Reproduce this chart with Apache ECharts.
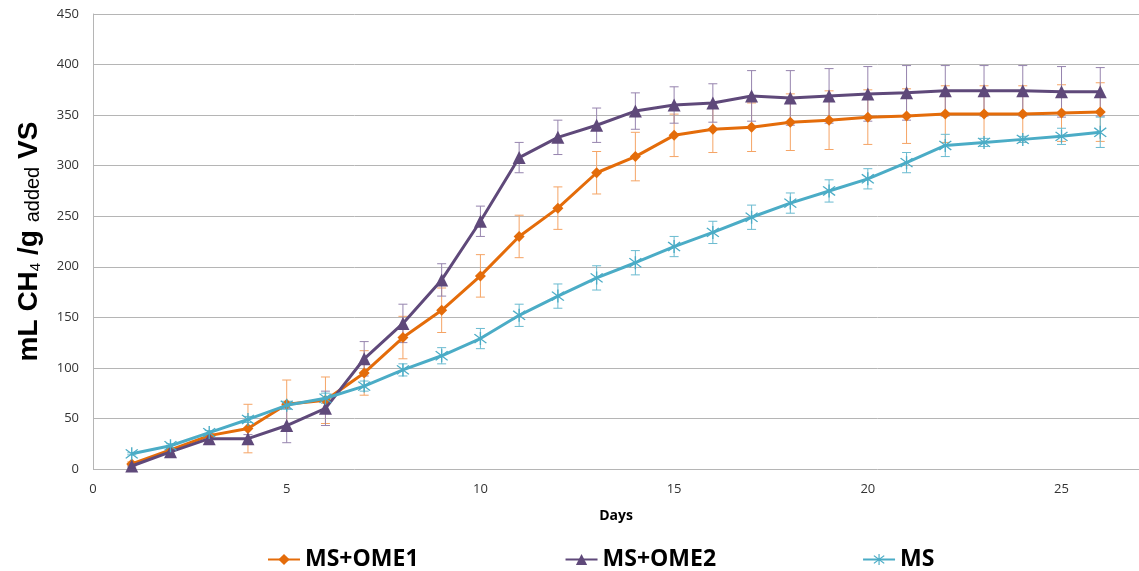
<!DOCTYPE html>
<html>
<head>
<meta charset="utf-8">
<script src="https://cdn.jsdelivr.net/npm/echarts@6/dist/echarts.min.js"></script>
<style>
  html, body { margin: 0; padding: 0; background: #fff; }
  #chart { width: 1139px; height: 571px; }
</style>
</head>
<body>
<div id="chart"></div>
<script>
// days of the test
const days = [1, 2, 3, 4, 5, 6, 7, 8, 9, 10, 11, 12, 13, 14, 15, 16, 17, 18, 19, 20, 21, 22, 23, 24, 25, 26];

// cumulative methane, mL CH4 / g added VS
const ome1 = [5, 19, 33, 40, 64, 68, 95, 130, 157, 191, 230, 258, 293, 309, 330, 336, 338, 343, 345, 348, 349, 351, 351, 351, 352, 353];
const ome2 = [3, 17, 30, 30, 43, 60, 109, 144, 187, 245, 308, 328, 340, 354, 360, 362, 369, 367, 369, 371, 372, 374, 374, 374, 373, 373];
const ms   = [15, 23, 36, 49, 63, 70, 82, 98, 112, 129, 152, 171, 189, 204, 220, 234, 249, 263, 275, 287, 303, 320, 323, 326, 329, 333];

// standard deviations (error bars)
const ome1Err = [2, 2, 2, 24, 24, 23, 22, 21, 22, 21, 21, 21, 21, 24, 21, 23, 24, 28, 29, 27, 27, 28, 28, 28, 28, 29];
const ome2Err = [1, 2, 3, 4, 17, 17, 17, 19, 16, 15, 15, 17, 17, 18, 18, 19, 25, 27, 27, 27, 27, 25, 25, 25, 25, 24];
const msErr   = [1, 2, 2, 3, 4, 5, 5, 6, 8, 10, 11, 12, 12, 12, 10, 11, 12, 10, 11, 10, 10, 11, 4, 3, 8, 15];

const seriesNames = ['MS+OME1', 'MS+OME2', 'MS'];
const colors = ['#E46C0A', '#5F497A', '#4BACC6'];
const errColors = ['#F5A465', '#9684AE', '#6BBBD0'];

const asterisk = 'path://M9.2 0L10.8 0L10.8 20L9.2 20Z M2.4 3.6L3.6 2.4L17.6 16.4L16.4 17.6Z M16.4 2.4L17.6 3.6L3.6 17.6L2.4 16.4Z';

let toLine = (vals) => days.map((d, i) => [d, vals[i]]);
let toErr = (vals, errs) => days.map((d, i) => [d, vals[i] - errs[i], vals[i] + errs[i]]);

function errorBar(color) {
    return function (params, api) {
        let x = api.value(0);
        let lo = api.coord([x, api.value(1)]);
        let hi = api.coord([x, api.value(2)]);
        let w = 4.5;
        let style = { stroke: color, lineWidth: 1, fill: null };
        return {
            type: 'group',
            children: [
                { type: 'line', shape: { x1: lo[0], y1: lo[1], x2: hi[0], y2: hi[1] }, style: style },
                { type: 'line', shape: { x1: lo[0] - w, y1: lo[1], x2: lo[0] + w, y2: lo[1] }, style: style },
                { type: 'line', shape: { x1: hi[0] - w, y1: hi[1], x2: hi[0] + w, y2: hi[1] }, style: style }
            ]
        };
    };
}

const lines = [ome1, ome2, ms];
const errs = [ome1Err, ome2Err, msErr];
const symbols = ['diamond', 'triangle', asterisk];
const symbolSizes = [11, 13, 13];

let series = [];
for (let i = 0; i < 3; i++) {
    series.push({
        name: seriesNames[i] + ' err',
        type: 'custom',
        renderItem: errorBar(errColors[i]),
        data: toErr(lines[i], errs[i]),
        encode: { x: 0, y: [1, 2] },
        z: 1,
        silent: true
    });
}
for (let i = 0; i < 3; i++) {
    series.push({
        name: seriesNames[i],
        type: 'line',
        data: toLine(lines[i]),
        symbol: symbols[i],
        symbolSize: symbolSizes[i],
        showAllSymbol: true,
        lineStyle: { color: colors[i], width: 3 },
        itemStyle: { color: colors[i], borderWidth: 0 },
        z: 3 + i
    });
}

let myChart = echarts.init(document.getElementById('chart'));
myChart.setOption({
    animation: false,
    backgroundColor: '#fff',
    grid: { left: 93, right: -5, top: 14, bottom: 102 },
    legend: {
        data: seriesNames,
        left: 262,
        top: 543,
        itemGap: 146,
        itemWidth: 32,
        itemHeight: 14,
        textStyle: { fontFamily: 'Open Sans', fontWeight: 'bold', fontSize: 23, color: '#000' }
    },
    xAxis: {
        type: 'value',
        min: 0,
        max: 27,
        interval: 5,
        name: 'Days',
        nameLocation: 'middle',
        nameGap: 40,
        nameTextStyle: { fontFamily: 'Open Sans', fontWeight: 'bold', fontSize: 14, color: '#000' },
        axisLine: { show: false },
        axisTick: { show: false },
        splitLine: { show: false },
        axisLabel: { showMaxLabel: false, margin: 14, fontFamily: 'Open Sans', fontSize: 13, color: '#333' }
    },
    yAxis: {
        type: 'value',
        min: 0,
        max: 450,
        interval: 50,
        name: '{b|mL CH}{s|4}{b| /g }{a|added}{b| VS}',
        nameLocation: 'middle',
        nameRotate: 90,
        nameGap: 50,
        nameTextStyle: {
            rich: {
                b: { fontFamily: 'Liberation Sans', fontWeight: 'bold', fontSize: 28, color: '#000', verticalAlign: 'bottom', lineHeight: 32 },
                s: { fontFamily: 'Liberation Sans', fontSize: 15, color: '#000', verticalAlign: 'bottom', lineHeight: 32 },
                a: { fontFamily: 'Liberation Sans', fontSize: 20, color: '#000', verticalAlign: 'bottom', lineHeight: 32 }
            }
        },
        axisLine: { show: true, lineStyle: { color: '#b5b5b5', width: 1 } },
        axisTick: { show: false },
        splitLine: { lineStyle: { color: '#b5b5b5', width: 1 } },
        axisLabel: { margin: 14, fontFamily: 'Open Sans', fontSize: 13, color: '#333' }
    },
    series: series
});
</script>
</body>
</html>
